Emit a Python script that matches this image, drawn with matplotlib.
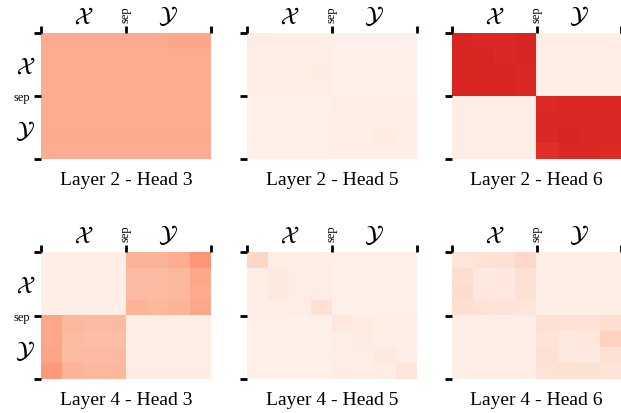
import numpy as np
import matplotlib
matplotlib.use('Agg')
import matplotlib.pyplot as plt

plt.rcParams['font.family'] = 'Liberation Serif'
plt.rcParams['mathtext.fontset'] = 'stix'

title_size = 14
cal_size = 17
sep_size = 9

titles = ['Layer 2 - Head 3', 'Layer 2 - Head 5', 'Layer 2 - Head 6',
          'Layer 4 - Head 3', 'Layer 4 - Head 5', 'Layer 4 - Head 6']

# coarse attention maps (8x8): rows/cols 0-3 = X tokens, 4-7 = Y tokens
l2h3 = [[0.30, 0.30, 0.30, 0.30, 0.30, 0.30, 0.31, 0.31],
        [0.29, 0.29, 0.29, 0.29, 0.29, 0.29, 0.29, 0.29],
        [0.29, 0.29, 0.29, 0.29, 0.29, 0.29, 0.29, 0.29],
        [0.29, 0.29, 0.29, 0.29, 0.29, 0.29, 0.29, 0.29],
        [0.29, 0.29, 0.29, 0.29, 0.29, 0.29, 0.29, 0.29],
        [0.29, 0.29, 0.29, 0.29, 0.29, 0.29, 0.29, 0.29],
        [0.30, 0.30, 0.30, 0.30, 0.30, 0.30, 0.30, 0.30],
        [0.29, 0.29, 0.29, 0.29, 0.29, 0.29, 0.29, 0.29]]

l2h5 = [[0.05, 0.04, 0.04, 0.04, 0.03, 0.03, 0.03, 0.03],
        [0.04, 0.05, 0.04, 0.05, 0.03, 0.03, 0.03, 0.03],
        [0.04, 0.05, 0.04, 0.06, 0.03, 0.03, 0.03, 0.03],
        [0.04, 0.04, 0.04, 0.05, 0.03, 0.03, 0.03, 0.03],
        [0.03, 0.03, 0.03, 0.03, 0.05, 0.04, 0.04, 0.04],
        [0.03, 0.03, 0.03, 0.03, 0.04, 0.04, 0.04, 0.04],
        [0.03, 0.03, 0.03, 0.03, 0.04, 0.04, 0.06, 0.04],
        [0.03, 0.03, 0.03, 0.03, 0.04, 0.04, 0.04, 0.04]]

l2h6 = [[0.70, 0.69, 0.69, 0.70, 0.04, 0.04, 0.04, 0.04],
        [0.70, 0.70, 0.69, 0.70, 0.04, 0.04, 0.04, 0.04],
        [0.70, 0.70, 0.70, 0.69, 0.04, 0.04, 0.04, 0.04],
        [0.70, 0.70, 0.70, 0.69, 0.04, 0.04, 0.04, 0.04],
        [0.05, 0.05, 0.05, 0.05, 0.68, 0.69, 0.69, 0.69],
        [0.05, 0.05, 0.05, 0.05, 0.69, 0.69, 0.69, 0.69],
        [0.05, 0.05, 0.05, 0.05, 0.69, 0.70, 0.69, 0.69],
        [0.05, 0.05, 0.05, 0.05, 0.67, 0.69, 0.69, 0.68]]

l4h3 = [[0.04, 0.04, 0.04, 0.04, 0.27, 0.27, 0.29, 0.36],
        [0.04, 0.04, 0.04, 0.04, 0.25, 0.25, 0.26, 0.31],
        [0.04, 0.04, 0.04, 0.04, 0.25, 0.25, 0.26, 0.30],
        [0.04, 0.04, 0.04, 0.04, 0.27, 0.26, 0.27, 0.31],
        [0.31, 0.26, 0.25, 0.25, 0.05, 0.05, 0.05, 0.05],
        [0.31, 0.25, 0.24, 0.24, 0.05, 0.05, 0.05, 0.05],
        [0.32, 0.25, 0.25, 0.25, 0.05, 0.05, 0.05, 0.05],
        [0.35, 0.27, 0.26, 0.26, 0.05, 0.05, 0.05, 0.05]]

l4h5 = [[0.16, 0.05, 0.04, 0.04, 0.03, 0.03, 0.03, 0.03],
        [0.04, 0.07, 0.05, 0.05, 0.03, 0.03, 0.03, 0.03],
        [0.04, 0.07, 0.05, 0.05, 0.03, 0.03, 0.03, 0.03],
        [0.04, 0.04, 0.05, 0.12, 0.03, 0.03, 0.03, 0.03],
        [0.03, 0.03, 0.03, 0.03, 0.08, 0.06, 0.04, 0.04],
        [0.03, 0.03, 0.03, 0.03, 0.05, 0.06, 0.04, 0.04],
        [0.03, 0.03, 0.03, 0.03, 0.04, 0.05, 0.07, 0.05],
        [0.03, 0.03, 0.03, 0.03, 0.05, 0.04, 0.05, 0.09]]

l4h6 = [[0.09, 0.11, 0.12, 0.15, 0.04, 0.04, 0.04, 0.04],
        [0.13, 0.07, 0.08, 0.12, 0.04, 0.04, 0.04, 0.04],
        [0.14, 0.08, 0.07, 0.12, 0.04, 0.04, 0.04, 0.04],
        [0.13, 0.11, 0.10, 0.09, 0.04, 0.04, 0.04, 0.04],
        [0.04, 0.04, 0.04, 0.04, 0.12, 0.11, 0.11, 0.13],
        [0.04, 0.04, 0.04, 0.04, 0.10, 0.07, 0.08, 0.17],
        [0.04, 0.04, 0.04, 0.04, 0.12, 0.08, 0.07, 0.12],
        [0.04, 0.04, 0.04, 0.04, 0.11, 0.12, 0.12, 0.10]]

maps = [l2h3, l2h5, l2h6, l4h3, l4h5, l4h6]

fig = plt.figure(figsize=(6.21, 4.14), dpi=100)

lefts = [41, 247, 452]
widths = [170, 170, 169]
tops = [34, 253]
heights = [126, 127]

for i in range(6):
    r, c = divmod(i, 3)
    ax = fig.add_axes([lefts[c] / 621, (414 - tops[r] - heights[r]) / 414,
                       widths[c] / 621, heights[r] / 414])
    ax.imshow(np.array(maps[i]), cmap='Reds', vmin=0, vmax=1, aspect='auto',
              interpolation='nearest', extent=(0, 2, 2, 0))
    for s in ax.spines.values():
        s.set_visible(False)
    ax.xaxis.tick_top()
    ax.set_xticks([0, 1, 2])
    ax.set_xticklabels(['', 'sep', ''], rotation=90, fontsize=sep_size)
    ax.set_xticks([0.5, 1.5], minor=True)
    ax.set_xticklabels([r'$\mathcal{X}$', r'$\mathcal{Y}$'], minor=True, fontsize=cal_size)
    ax.set_yticks([0, 1, 2])
    ax.set_yticks([0.5, 1.5], minor=True)
    if c == 0:
        ax.set_yticklabels(['', 'sep', ''], fontsize=sep_size)
        ax.set_yticklabels([r'$\mathcal{X}$', r'$\mathcal{Y}$'], minor=True, fontsize=cal_size)
    else:
        ax.set_yticklabels(['', '', ''])
        ax.set_yticklabels(['', ''], minor=True)
    ax.tick_params(which='major', length=5, width=2, pad=3)
    ax.tick_params(which='minor', length=0, pad=4)
    ax.set_xlim(0, 2)
    ax.set_ylim(2, 0)
    ax.text(0.5, -0.095, titles[i], transform=ax.transAxes, ha='center', va='top',
            fontsize=title_size)

fig.savefig('out.png', dpi=100)
